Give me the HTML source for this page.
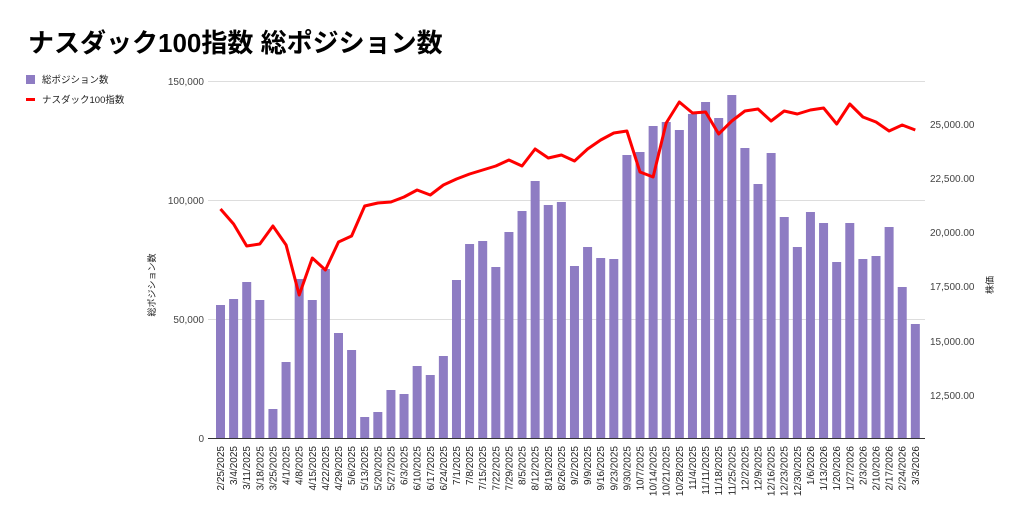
<!DOCTYPE html>
<html><head><meta charset="utf-8"><style>
body{margin:0;background:#fff;}
svg{display:block;font-family:"Liberation Sans","Noto Sans CJK JP",sans-serif;}
</style></head><body>
<svg width="1024" height="518" viewBox="0 0 1024 518" xmlns="http://www.w3.org/2000/svg">
<text x="28" y="52" font-size="26" font-weight="bold" fill="#000">ナスダック100指数 総ポジション数</text>
<rect x="26" y="75" width="9" height="9" fill="#8e7cc3"/>
<text x="42" y="83" font-size="9.5" fill="#222">総ポジション数</text>
<rect x="26" y="98" width="9" height="3" fill="#f00"/>
<text x="42" y="103" font-size="9.5" fill="#222">ナスダック100指数</text>
<g stroke="#ddd" stroke-width="1">
<line x1="208" y1="81.5" x2="925" y2="81.5"/>
<line x1="208" y1="200.5" x2="925" y2="200.5"/>
<line x1="208" y1="319.5" x2="925" y2="319.5"/>
</g>
<g font-size="10" fill="#444" text-anchor="end">
<text x="204" y="85">150,000</text>
<text x="204" y="204">100,000</text>
<text x="204" y="323">50,000</text>
<text x="204" y="442">0</text>
</g>
<g font-size="10" fill="#444">
<text x="930" y="128">25,000.00</text>
<text x="930" y="182">22,500.00</text>
<text x="930" y="236">20,000.00</text>
<text x="930" y="290">17,500.00</text>
<text x="930" y="345">15,000.00</text>
<text x="930" y="399">12,500.00</text>
</g>
<text transform="translate(155,285) rotate(-90)" font-size="9" fill="#222" text-anchor="middle">総ポジション数</text>
<text transform="translate(993,285) rotate(-90)" font-size="9" fill="#222" text-anchor="middle">株価</text>
<g id="bars" fill="#8e7cc3"></g>
<line x1="208" y1="438.5" x2="925" y2="438.5" stroke="#333" stroke-width="1"/>
<polyline id="ln" fill="none" stroke="#f00" stroke-width="3" stroke-linejoin="round"/>
<g font-size="10" fill="#222" text-anchor="end">
<text transform="translate(224,446) rotate(-90)">2/25/2025</text>
<text transform="translate(237.1,446) rotate(-90)">3/4/2025</text>
<text transform="translate(250.2,446) rotate(-90)">3/11/2025</text>
<text transform="translate(263.3,446) rotate(-90)">3/18/2025</text>
<text transform="translate(276.4,446) rotate(-90)">3/25/2025</text>
<text transform="translate(289.6,446) rotate(-90)">4/1/2025</text>
<text transform="translate(302.7,446) rotate(-90)">4/8/2025</text>
<text transform="translate(315.8,446) rotate(-90)">4/15/2025</text>
<text transform="translate(328.9,446) rotate(-90)">4/22/2025</text>
<text transform="translate(342,446) rotate(-90)">4/29/2025</text>
<text transform="translate(355.1,446) rotate(-90)">5/6/2025</text>
<text transform="translate(368.2,446) rotate(-90)">5/13/2025</text>
<text transform="translate(381.3,446) rotate(-90)">5/20/2025</text>
<text transform="translate(394.4,446) rotate(-90)">5/27/2025</text>
<text transform="translate(407.5,446) rotate(-90)">6/3/2025</text>
<text transform="translate(420.7,446) rotate(-90)">6/10/2025</text>
<text transform="translate(433.8,446) rotate(-90)">6/17/2025</text>
<text transform="translate(446.9,446) rotate(-90)">6/24/2025</text>
<text transform="translate(460,446) rotate(-90)">7/1/2025</text>
<text transform="translate(473.1,446) rotate(-90)">7/8/2025</text>
<text transform="translate(486.2,446) rotate(-90)">7/15/2025</text>
<text transform="translate(499.3,446) rotate(-90)">7/22/2025</text>
<text transform="translate(512.4,446) rotate(-90)">7/29/2025</text>
<text transform="translate(525.5,446) rotate(-90)">8/5/2025</text>
<text transform="translate(538.6,446) rotate(-90)">8/12/2025</text>
<text transform="translate(551.8,446) rotate(-90)">8/19/2025</text>
<text transform="translate(564.9,446) rotate(-90)">8/26/2025</text>
<text transform="translate(578,446) rotate(-90)">9/2/2025</text>
<text transform="translate(591.1,446) rotate(-90)">9/9/2025</text>
<text transform="translate(604.2,446) rotate(-90)">9/16/2025</text>
<text transform="translate(617.3,446) rotate(-90)">9/23/2025</text>
<text transform="translate(630.4,446) rotate(-90)">9/30/2025</text>
<text transform="translate(643.5,446) rotate(-90)">10/7/2025</text>
<text transform="translate(656.6,446) rotate(-90)">10/14/2025</text>
<text transform="translate(669.7,446) rotate(-90)">10/21/2025</text>
<text transform="translate(682.9,446) rotate(-90)">10/28/2025</text>
<text transform="translate(696,446) rotate(-90)">11/4/2025</text>
<text transform="translate(709.1,446) rotate(-90)">11/11/2025</text>
<text transform="translate(722.2,446) rotate(-90)">11/18/2025</text>
<text transform="translate(735.3,446) rotate(-90)">11/25/2025</text>
<text transform="translate(748.4,446) rotate(-90)">12/2/2025</text>
<text transform="translate(761.5,446) rotate(-90)">12/9/2025</text>
<text transform="translate(774.6,446) rotate(-90)">12/16/2025</text>
<text transform="translate(787.7,446) rotate(-90)">12/23/2025</text>
<text transform="translate(800.8,446) rotate(-90)">12/30/2025</text>
<text transform="translate(814,446) rotate(-90)">1/6/2026</text>
<text transform="translate(827.1,446) rotate(-90)">1/13/2026</text>
<text transform="translate(840.2,446) rotate(-90)">1/20/2026</text>
<text transform="translate(853.3,446) rotate(-90)">1/27/2026</text>
<text transform="translate(866.4,446) rotate(-90)">2/3/2026</text>
<text transform="translate(879.5,446) rotate(-90)">2/10/2026</text>
<text transform="translate(892.6,446) rotate(-90)">2/17/2026</text>
<text transform="translate(905.7,446) rotate(-90)">2/24/2026</text>
<text transform="translate(918.8,446) rotate(-90)">3/3/2026</text>
</g>
<script>
var bt=[305,299,282,300,409,362,279,300,269,333,350,417,412,390,394,366,375,356,280,244,241,267,232,211,181,205,202,266,247,258,259,155,152,126,122,130,114,102,118,95,148,184,153,217,247,212,223,262,223,259,256,227,287,324];
var ly=[209,224,246,244,226,245,295,258,270,242,236,206,203,202,197,190,195,185,179,174,170,166,160,166,149,158,155,161,149,140,133,131,172,177,123,102,113,112,134,121,111,109,121,111,114,110,108,124,104,117,122,131,125,130];
var g=document.getElementById('bars'),ns='http://www.w3.org/2000/svg',pts=[];
for(var i=0;i<54;i++){var c=220.5+i*13.11;var r=document.createElementNS(ns,'rect');
r.setAttribute('x',c-4.5);r.setAttribute('y',bt[i]);r.setAttribute('width',9);r.setAttribute('height',438-bt[i]);g.appendChild(r);
pts.push(c.toFixed(1)+','+ly[i]);}
document.getElementById('ln').setAttribute('points',pts.join(' '));
</script>
</svg>
</body></html>
